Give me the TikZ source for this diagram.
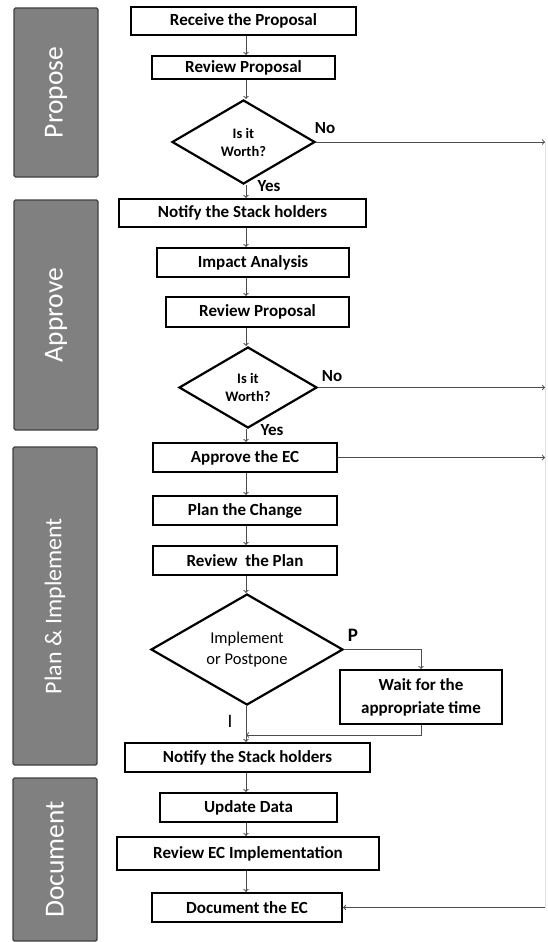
\documentclass[tikz,border=0pt]{standalone}
\usepackage{fontspec}
\setmainfont{Carlito}
\usetikzlibrary{shapes.geometric}

\begin{document}
\begin{tikzpicture}[x=1pt, y=-1pt,
    process/.style ={rectangle, draw, line width=2.2pt, inner sep=0pt, font=\fontsize{17}{23}\selectfont\bfseries, align=center},
    decision/.style ={diamond, draw, line width=2.2pt, inner sep=0pt, aspect=2, align=center},
    phase/.style ={rectangle, draw=black!75, fill=black!50, line width=1.4pt, rounded corners=1.5pt, text=white, rotate=90, font=\fontsize{27.5}{30}\selectfont},
    flow/.style ={->, draw=black!70, line width=1pt},
    answer/.style ={font=\fontsize{17}{20}\selectfont\bfseries}]
   \useasboundingbox (0,0) rectangle (547,942);

   % phases
   \node[phase, minimum width=169, minimum height=84] (prop) at (56,92.5) {Propose};
   \node[phase, minimum width=230, minimum height=84] (appr) at (56,315) {Approve};
   \node[phase, minimum width=318, minimum height=84, font=\fontsize{24}{26}\selectfont] (plan) at (55,606) {Plan \& Implement};
   \node[phase, minimum width=163, minimum height=84] (docu) at (55,859.5) {Document};

   % steps
   \node[process, minimum width=225, minimum height=28] (A) at (243.5,21) {Receive the Proposal};
   \node[process, minimum width=183, minimum height=23] (B) at (243.5,67.5) {Review Proposal};
   \node[decision, minimum width=143, minimum height=84, font=\fontsize{14.5}{18}\selectfont\bfseries] (C) at (243.5,142) {Is it\\Worth?};
   \node[process, minimum width=247, minimum height=28] (D) at (242.5,213) {Notify the Stack holders};
   \node[process, minimum width=192, minimum height=29] (E) at (253,262.5) {Impact Analysis};
   \node[process, minimum width=183, minimum height=30] (F) at (257.5,312) {Review Proposal};
   \node[decision, minimum width=138, minimum height=81, font=\fontsize{14.5}{18}\selectfont\bfseries] (G) at (248,387.5) {Is it\\Worth?};
   \node[process, minimum width=184, minimum height=29] (H) at (245,457.5) {Approve the EC};
   \node[process, minimum width=184, minimum height=29] (I) at (245,510.5) {Plan the Change};
   \node[process, minimum width=184, minimum height=29] (J) at (245,560.5) {Review \ the Plan};
   \node[decision, minimum width=192, minimum height=111, font=\fontsize{16.5}{21}\selectfont] (K) at (247,649.5) {Implement\\or Postpone};
   \node[process, minimum width=162, minimum height=54] (L) at (421,697) {Wait for the\\appropriate time};
   \node[process, minimum width=245, minimum height=29] (M) at (247.5,757.5) {Notify the Stack holders};
   \node[process, minimum width=177, minimum height=29] (N) at (248.5,807.5) {Update Data};
   \node[process, minimum width=262, minimum height=33] (O) at (248,853.5) {Review EC Implementation};
   \node[process, minimum width=190, minimum height=29] (P) at (247,907.5) {Document the EC};

   % answers
   \node[answer] (no1) at (325,128) {No};
   \node[answer] (yes1) at (269,186) {Yes};
   \node[answer] (no2) at (332,376) {No};
   \node[answer] (yes2) at (272,430) {Yes};
   \node[answer, font=\fontsize{19}{20}\selectfont\bfseries] (pp) at (353,635) {P};
   \node[answer, font=\fontsize{19}{20}\selectfont] (ii) at (230,721) {I};

   \coordinate (spine) at (246,0);
   \coordinate (R) at (545,0);
   \coordinate (Q) at (246,735);

   \draw[flow] (A.south -| spine) -- (B.north -| spine);
   \draw[flow] (B.south -| spine) -- (C.north -| spine);
   \draw[flow] (C.south -| spine) -- (D.north -| spine);
   \draw[flow] (D.south -| spine) -- (E.north -| spine);
   \draw[flow] (E.south -| spine) -- (F.north -| spine);
   \draw[flow] (F.south -| spine) -- (G.north -| spine);
   \draw[flow] (G.south -| spine) -- (H.north -| spine);
   \draw[flow] (H.south -| spine) -- (I.north -| spine);
   \draw[flow] (I.south -| spine) -- (J.north -| spine);
   \draw[flow] (J.south -| spine) -- (K.north -| spine);
   \draw[flow] (K.south -| spine) -- (M.north -| spine);
   \draw[flow] (M.south -| spine) -- (N.north -| spine);
   \draw[flow] (N.south -| spine) -- (O.north -| spine);
   \draw[flow] (O.south -| spine) -- (P.north -| spine);
   \draw[flow] (K) -| (L);
   \draw[flow] (L.south) |- (Q);
   \draw[flow] (C) -- (C -| R);
   \draw[flow] (G) -- (G -| R);
   \draw[flow] (H) -- (H -| R);
   \draw[draw=black!12, line width=0.6pt] (C -| R) -- (P -| R);
   \draw[flow] (P -| R) -- (P);
 \end{tikzpicture}
\end{document}
